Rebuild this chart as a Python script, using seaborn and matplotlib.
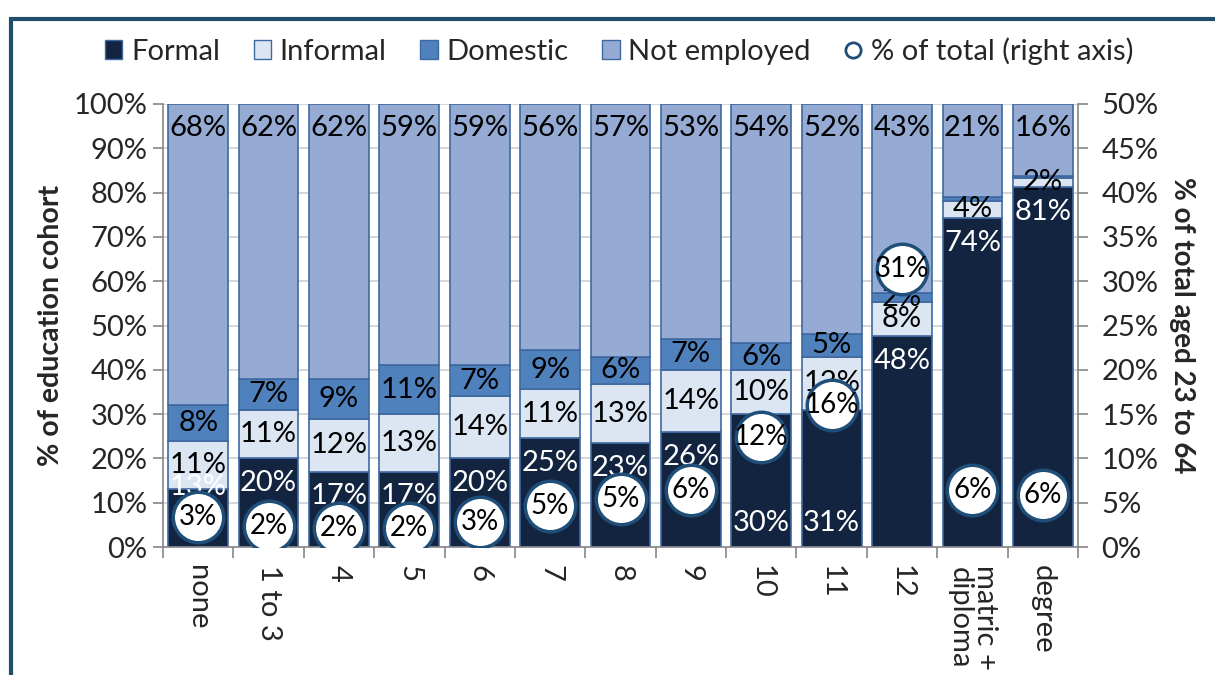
import numpy as np
import pandas as pd
import matplotlib
matplotlib.use("Agg")
import matplotlib.pyplot as plt
import seaborn as sns
from matplotlib.patches import Patch, Rectangle
from matplotlib.lines import Line2D

# ---- data ----
categories = ["none", "1 to 3", "4", "5", "6", "7", "8", "9", "10", "11", "12",
              "matric +\ndiploma", "degree"]
formal = [13, 20, 17, 17, 20, 24.6, 23.4, 26, 30, 31, 47.6, 74.2, 81.2]
informal = [11, 11, 12, 13, 14, 11, 13.3, 14, 10, 12, 7.6, 4.0, 2.2]
domestic = [8, 7, 9, 11, 7, 8.8, 6.3, 7, 6, 5, 2.2, 0.8, 0.3]
not_employed = [68, 62, 62, 59, 59, 55.6, 57, 53, 54, 52, 42.6, 21, 16.3]
pct_total = [3.4, 2.4, 2.1, 2.1, 2.8, 4.6, 5.4, 6.4, 12.4, 16.0, 31.4, 6.4, 5.9]

series_names = ["Formal", "Informal", "Domestic", "Not employed"]
colors = {"Formal": "#12243f", "Informal": "#dce6f2",
          "Domestic": "#4f81bd", "Not employed": "#95abd3"}
edge = "#3f68a0"

sns.set_theme(style="white")
plt.rcParams["font.family"] = ["Lato", "DejaVu Sans"]
FS = 21

fig = plt.figure(figsize=(12.15, 6.75), dpi=100)
ax = fig.add_axes([163 / 1215, 128 / 675, (1078 - 163) / 1215, (547 - 104) / 675])

x = np.arange(len(categories))
stack = [formal, informal, domestic, not_employed]
bottom = np.zeros(len(categories))
for name, vals in zip(series_names, stack):
    df = pd.DataFrame({"x": x, "y": vals})
    sns.barplot(data=df, x="x", y="y", bottom=bottom, color=colors[name],
                saturation=1, width=0.85, edgecolor=edge, linewidth=1.2,
                ax=ax, zorder=2, native_scale=True)
    bottom = bottom + np.array(vals, dtype=float)

ax.set_xlim(-0.5, len(categories) - 0.5)
ax.set_ylim(0, 100)
ax.set_yticks(np.arange(0, 101, 10))
ax.set_yticklabels([f"{v}%" for v in range(0, 101, 10)], fontsize=FS)
ax.yaxis.grid(True, color="#cfcfcf", linewidth=1.2, zorder=0)
ax.set_axisbelow(True)
ax.set_xticks(x)
ax.set_xticklabels(categories, rotation=-90, fontsize=FS, va="top",
                   ha="center", linespacing=1.0)
ax.set_xticks(np.arange(-0.5, len(categories), 1), minor=True)
ax.tick_params(axis="x", which="major", length=0, pad=13)
ax.tick_params(axis="x", which="minor", length=8, color="#868686", width=1.2,
               direction="out", bottom=True)
ax.tick_params(axis="y", length=7, color="#868686", width=1.2, left=True,
               direction="out", pad=4)
ax.set_xlabel("")
ax.set_ylabel("% of education cohort", fontsize=20.5, fontweight="bold", labelpad=7)
for s in ["left", "bottom", "right"]:
    ax.spines[s].set_color("#868686")
    ax.spines[s].set_linewidth(1.2)
ax.spines["top"].set_visible(False)

# segment labels
label_override = {0: 13.5, 8: 5.4, 9: 5.4}
for i in range(len(categories)):
    fy = label_override.get(i, formal[i] - 5.6)
    ax.text(i, fy, f"{formal[i]:.0f}%", ha="center", va="center", color="white",
            fontsize=FS, zorder=3)
    ax.text(i, formal[i] + informal[i] / 2, f"{informal[i]:.0f}%", ha="center",
            va="center", color="black", fontsize=FS, zorder=3)
    if domestic[i] >= 2:
        ax.text(i, formal[i] + informal[i] + domestic[i] / 2, f"{domestic[i]:.0f}%",
                ha="center", va="center", color="black", fontsize=FS, zorder=3)
    ax.text(i, 100 - 5.4, f"{not_employed[i]:.0f}%", ha="center", va="center",
            color="black", fontsize=FS, zorder=3)

# right axis circles
ax2 = ax.twinx()
sns.scatterplot(x=x, y=pct_total, ax=ax2, s=1320, color="white",
                edgecolor="#1f4e79", linewidth=2.5, zorder=5, legend=False)
for i, v in enumerate(pct_total):
    ax2.text(i, v, f"{v:.0f}%", ha="center", va="center", fontsize=20,
             color="black", zorder=6)
ax2.set_ylim(0, 50)
ax2.set_yticks(np.arange(0, 51, 5))
ax2.set_yticklabels([f"{v}%" for v in range(0, 51, 5)], fontsize=FS)
ax2.tick_params(axis="y", length=7, color="#868686", width=1.2, right=True,
                direction="out", pad=10)
ax2.set_ylabel("% of total aged 23 to 64", fontsize=20, fontweight="bold",
               rotation=-90, labelpad=26)
ax2.grid(False)
for s in ax2.spines.values():
    s.set_visible(False)

# legend
handles = [Patch(facecolor=colors[n], edgecolor=edge, label=n) for n in series_names]
handles.append(Line2D([], [], marker="o", linestyle="none", markersize=11,
                      markerfacecolor="white", markeredgecolor="#1f4e79",
                      markeredgewidth=2, label="% of total (right axis)"))
fig.legend(handles=handles, loc="center", bbox_to_anchor=(619 / 1215, 1 - 51 / 675),
           ncol=5, frameon=False, fontsize=FS, handlelength=0.6,
           handleheight=0.65, handletextpad=0.3, columnspacing=1.15)

# frame border
fig.add_artist(Rectangle((11 / 1215, -0.2), 1.3, 0.2 + (675 - 19) / 675,
                         transform=fig.transFigure, fill=False,
                         edgecolor="#1f4e6b", linewidth=3, clip_on=False))

fig.savefig("out.png", dpi=100, facecolor="white")
